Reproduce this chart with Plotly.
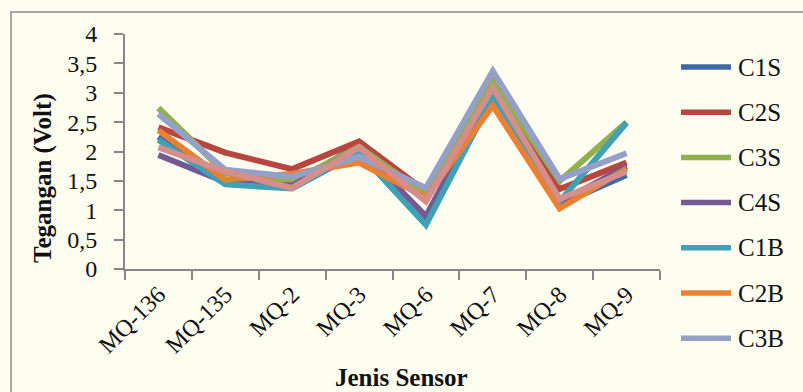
import plotly.graph_objects as go

# Sensor categories on the x axis
sensors = ["MQ-136", "MQ-135", "MQ-2", "MQ-3", "MQ-6", "MQ-7", "MQ-8", "MQ-9"]

# Output voltage (Volt) per sensor for each sample
c1s = [2.25, 1.45, 1.43, 2.12, 0.85, 2.98, 1.10, 1.60]
c2s = [2.41, 1.98, 1.70, 2.17, 1.32, 3.26, 1.36, 1.81]
c3s = [2.74, 1.63, 1.49, 2.08, 1.27, 3.19, 1.50, 2.50]
c4s = [1.94, 1.48, 1.42, 2.05, 0.90, 3.02, 1.13, 1.75]
c1b = [2.20, 1.44, 1.37, 1.98, 0.75, 2.93, 1.15, 2.49]
c2b = [2.36, 1.52, 1.62, 1.81, 1.22, 2.78, 1.03, 1.71]
c3b = [2.64, 1.69, 1.57, 1.91, 1.38, 3.37, 1.53, 1.97]
c4b = [2.07, 1.66, 1.38, 2.07, 1.15, 3.09, 1.19, 1.66]

series_names = ["C1S", "C2S", "C3S", "C4S", "C1B", "C2B", "C3B", "C4B"]
series_values = [c1s, c2s, c3s, c4s, c1b, c2b, c3b, c4b]
series_colors = ["#3E6AA6", "#B8453F", "#8FB04A", "#735A93",
                 "#40A0B5", "#EA8034", "#95A0C8", "#D58E8B"]
legend_names = ["C1S", "C2S", "C3S", "C4S", "C1B", "C2B", "C3B"]

y_ticks = [0, 0.5, 1, 1.5, 2, 2.5, 3, 3.5, 4]
y_tick_labels = ["0", "0,5", "1", "1,5", "2", "2,5", "3", "3,5", "4"]

W, H = 803, 392
L, R, T, B = 125, 660, 34, 269  # plot area in pixels
BG = "#FDFDF0"
AXIS = "#878787"
FONT = "Liberation Serif"


def px(xp):
    return (xp - L) / (R - L)


def py(yp):
    return (B - yp) / (B - T)


fig = go.Figure()
for name, vals, col in zip(series_names, series_values, series_colors):
    fig.add_trace(go.Scatter(
        x=sensors, y=vals, name=name, mode="lines",
        line=dict(color=col, width=6),
        showlegend=False,
    ))

shapes = []
annotations = []

# outer chart frame
shapes.append(dict(type="rect", xref="paper", yref="paper",
                   x0=px(11), x1=px(840), y0=py(12), y1=py(430),
                   line=dict(color="#8C8C8C", width=1.5), layer="below"))

# legend drawn at the right of the plot
for i, name in enumerate(legend_names):
    yc = 67 + 45.2 * i
    col = series_colors[series_names.index(name)]
    shapes.append(dict(type="line", xref="paper", yref="paper",
                       x0=px(681), x1=px(731), y0=py(yc), y1=py(yc),
                       line=dict(color=col, width=5.5)))
    annotations.append(dict(text=name, xref="paper", yref="paper",
                            x=px(736), y=py(yc), xanchor="left", yanchor="middle",
                            showarrow=False,
                            font=dict(family=FONT, size=25, color="#111111")))

# axis titles
annotations.append(dict(text="<b>Tegangan (Volt)</b>", xref="paper", yref="paper",
                        x=px(43), y=py(178), xanchor="center", yanchor="middle",
                        textangle=-90, showarrow=False,
                        font=dict(family=FONT, size=25, color="#111111")))
annotations.append(dict(text="<b>Jenis Sensor</b>", xref="paper", yref="paper",
                        x=px(401), y=py(377), xanchor="center", yanchor="middle",
                        showarrow=False,
                        font=dict(family=FONT, size=25, color="#111111")))

fig.update_layout(
    width=W, height=H,
    margin=dict(l=L, r=W - R, t=T, b=H - B),
    paper_bgcolor=BG, plot_bgcolor=BG,
    shapes=shapes, annotations=annotations,
    showlegend=False,
    font=dict(family=FONT, color="#111111"),
)
fig.update_xaxes(
    type="category", range=[-0.5, 7.5],
    showline=True, linecolor=AXIS, linewidth=2,
    ticks="outside", tickson="boundaries", ticklen=9, tickwidth=2, tickcolor=AXIS,
    tickangle=-45, tickfont=dict(family=FONT, size=24, color="#111111"),
    showgrid=False, zeroline=False,
)
fig.update_yaxes(
    range=[0, 4], tickvals=y_ticks, ticktext=y_tick_labels,
    showline=True, linecolor=AXIS, linewidth=2,
    ticks="outside", ticklen=9, tickwidth=2, tickcolor=AXIS,
    ticklabelstandoff=12,
    tickfont=dict(family=FONT, size=24, color="#111111"),
    showgrid=False, zeroline=False,
)

fig.write_html("out.html")
